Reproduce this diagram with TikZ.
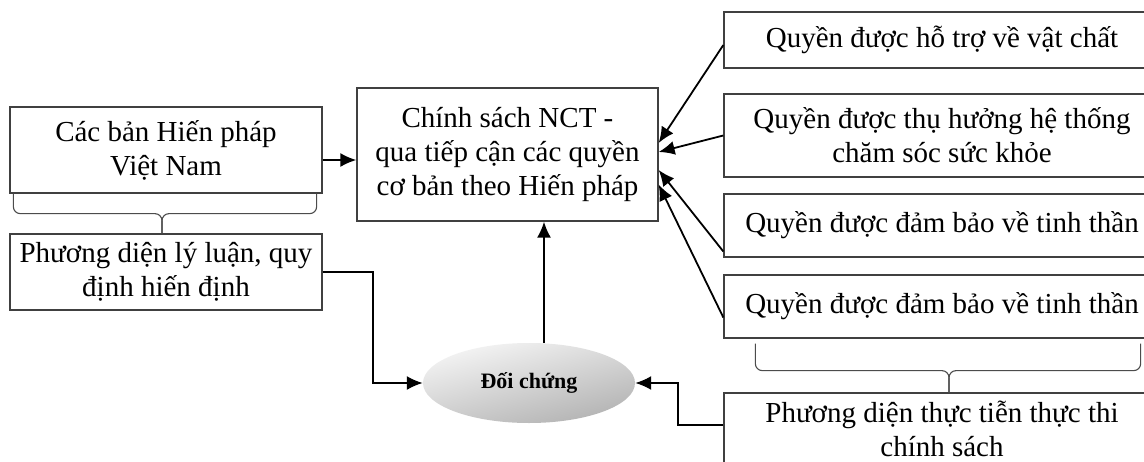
\documentclass[tikz,border=0pt]{standalone}
\usepackage{fontspec}
\setmainfont{Liberation Serif}
\usetikzlibrary{arrows.meta,shapes.geometric}

\begin{document}
\begin{tikzpicture}[x=1pt, y=-1pt,
    box/.style={draw=black!75, line width=1.3pt, align=center, inner sep=0pt,
      font=\fontsize{29}{34}\selectfont},
    arr/.style={line width=1.8pt, -{Latex[length=16pt,width=14pt]}},
    brc/.style={draw=black!70, line width=1.1pt, rounded corners=7pt}]
    \path[use as bounding box, fill=white] (0,0) rectangle (1144,461);

    % ben trai
    \node[box, minimum width=312pt, minimum height=86pt] (hp) at (166,150) {Các bản Hiến pháp\\ Việt Nam};
    \node[box, minimum width=312pt, minimum height=76pt] (ll) at (166,272) {Phương diện lý luận, quy\\ định hiến định};

    % o giua
    \node[box, minimum width=301pt, minimum height=133pt] (cs) at (507.5,154.5) {Chính sách NCT -\\ qua tiếp cận các quyền\\ cơ bản theo Hiến pháp};
    \node[ellipse, minimum width=212pt, minimum height=80pt, inner sep=0pt,
      shading=axis, top color=gray!8, bottom color=gray!60, shading angle=15,
      font=\fontsize{22}{26}\selectfont\bfseries] (dc) at (529,383) {Đối chứng};

    % ben phai
    \node[box, minimum width=436pt, minimum height=56pt] (r1) at (942,40) {Quyền được hỗ trợ về vật chất};
    \node[box, minimum width=436pt, minimum height=83pt] (r2) at (942,135.5) {Quyền được thụ hưởng hệ thống\\ chăm sóc sức khỏe};
    \node[box, minimum width=436pt, minimum height=63pt] (r3) at (942,225.5) {Quyền được đảm bảo về tinh thần};
    \node[box, minimum width=436pt, minimum height=63pt] (r4) at (942,306.5) {Quyền được đảm bảo về tinh thần};
    \node[box, minimum width=436pt, minimum height=72pt] (tt) at (942,429) {Phương diện thực tiễn thực thi\\ chính sách};

    % ngoac
    \draw[brc] ([xshift=4pt]hp.south west) -- ++(0,20) -| ([xshift=-4pt]ll.north);
    \draw[brc] ([xshift=-6pt]hp.south east) -- ++(0,20) -| ([xshift=-4pt]ll.north);
    \draw[brc] ([xshift=32pt,yshift=-5pt]r4.south west) -- ++(0,27) -| ([xshift=7pt]tt.north);
    \draw[brc] ([xshift=-20pt,yshift=-5pt]r4.south east) -- ++(0,27) -| ([xshift=7pt]tt.north);

    % mui ten
    \draw[arr] ([yshift=-10pt]hp.east) -- ([yshift=-10pt]hp.east -| cs.west);
    \draw[arr] (ll.east) -- ++(50,0) |- (dc.west);
    \draw[arr] ([xshift=15pt]dc.north) -- ([xshift=15pt]dc.north |- cs.south);
    \draw[arr] ([yshift=4pt]tt.west) -- ++(-45,0) |- (dc.east);
    \draw[arr] ([yshift=-5pt]r1.west) -- ([yshift=11.5pt]cs.east);
    \draw[arr] (r2.west) -- ([yshift=2.5pt]cs.east);
    \draw[arr] ([yshift=-26pt]r3.west) -- ([yshift=-15.5pt]cs.east);
    \draw[arr] ([yshift=-11pt]r4.west) -- ([yshift=-30pt]cs.east);
\end{tikzpicture}
\end{document}
